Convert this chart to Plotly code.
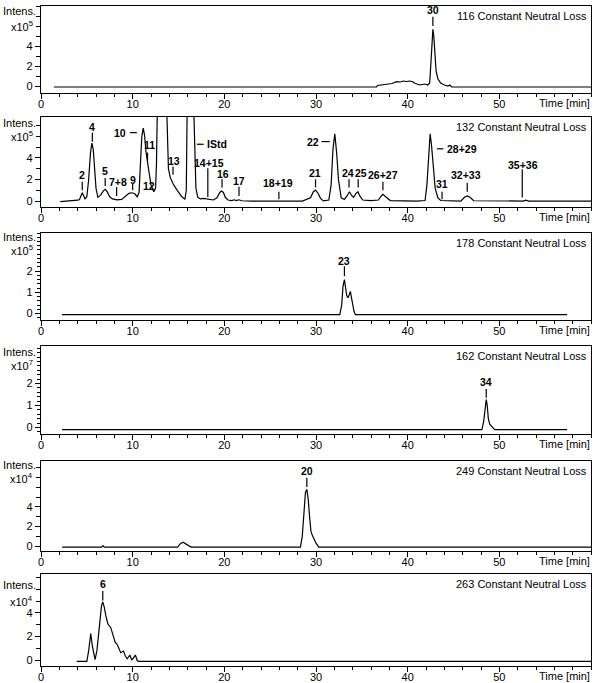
import plotly.graph_objects as go

# ---------------- data ----------------
titles = ["116 Constant Neutral Loss", "132 Constant Neutral Loss", "178 Constant Neutral Loss",
          "162 Constant Neutral Loss", "249 Constant Neutral Loss", "263 Constant Neutral Loss"]
exponents = [5, 5, 5, 7, 4, 4]

# (time [min], intensity in units of 10^exponent)
trace_116 = [(1.4, -0.1), (36.6, -0.1), (36.7, 0.05), (37.2, 0.1), (37.7, 0.2), (38.3, 0.25), (38.8, 0.43),
             (39.2, 0.4), (39.5, 0.5), (39.9, 0.45), (40.2, 0.5), (40.5, 0.45), (40.8, 0.27), (41.3, 0.1),
             (41.6, 0.15), (41.9, 0.2), (42.2, 0.1), (42.4, 0.3), (42.55, 2.5), (42.65, 5.0), (42.75, 5.67),
             (42.85, 5.0), (42.95, 3.0), (43.1, 1.5), (43.3, 0.7), (43.6, 0.3), (44.0, 0.1), (44.4, 0.0),
             (44.6, 0.1), (44.8, -0.1), (60.0, -0.1)]

trace_132 = [(2.1, -0.05), (3.0, 0.0), (4.0, 0.08), (4.2, 0.15), (4.4, 0.6), (4.5, 0.77), (4.65, 0.5),
             (4.8, 0.2), (5.0, 0.4), (5.2, 2.0), (5.4, 4.5), (5.55, 5.37), (5.7, 4.8), (5.85, 3.0), (6.0, 1.2),
             (6.2, 0.35), (6.5, 0.55), (6.8, 0.95), (7.0, 1.09), (7.2, 0.9), (7.5, 0.4), (7.8, 0.2), (8.3, 0.12),
             (8.8, 0.15), (9.2, 0.45), (9.6, 0.72), (9.9, 0.77), (10.2, 0.7), (10.5, 0.4), (10.7, 0.8),
             (10.85, 3.5), (11.0, 6.0), (11.15, 6.76), (11.3, 6.1), (11.45, 4.6), (11.6, 3.6), (11.8, 2.6),
             (12.0, 1.5), (12.3, 0.87), (12.5, 1.2), (12.6, 3.5), (12.75, 12.0), (13.2, 16.0), (13.6, 12.0),
             (13.75, 6.0), (13.9, 3.0), (14.1, 2.2), (14.4, 1.6), (14.7, 1.2), (15.0, 0.8), (15.3, 0.47),
             (15.7, 0.16), (15.85, 1.0), (15.95, 9.0), (16.3, 25.0), (16.65, 9.0), (16.75, 5.0), (16.9, 1.2),
             (17.1, 0.35), (17.4, 0.2), (17.7, 0.25), (18.0, 0.2), (18.4, 0.12), (18.8, 0.1), (19.2, 0.3),
             (19.5, 0.8), (19.7, 0.93), (19.9, 0.8), (20.1, 0.35), (20.4, 0.1), (20.8, 0.05), (21.1, 0.12),
             (21.3, 0.05), (21.6, 0.12), (21.9, 0.03), (23.0, 0.0), (26.0, 0.0), (28.5, 0.0), (29.4, 0.3),
             (29.7, 0.85), (29.95, 1.02), (30.2, 0.75), (30.5, 0.25), (30.8, 0.02), (31.4, 0.1), (31.65, 1.5),
             (31.85, 4.8), (32.05, 6.23), (32.25, 4.5), (32.45, 2.0), (32.75, 0.3), (33.1, 0.15), (33.4, 0.5),
             (33.65, 0.87), (33.9, 0.5), (34.1, 0.35), (34.35, 0.7), (34.57, 0.87), (34.8, 0.45), (35.1, 0.1),
             (36.0, 0.05), (36.8, 0.1), (37.1, 0.45), (37.3, 0.62), (37.6, 0.4), (38.1, 0.05), (41.0, 0.0),
             (41.9, 0.05), (42.1, 1.5), (42.3, 5.0), (42.45, 6.23), (42.6, 5.2), (42.8, 2.8), (43.0, 1.2),
             (43.3, 0.3), (43.6, 0.05), (45.8, 0.0), (46.2, 0.35), (46.5, 0.47), (46.8, 0.35), (47.2, 0.03),
             (52.6, 0.0), (52.9, 0.08), (53.2, 0.0), (60.0, 0.0)]

trace_178 = [(2.3, -0.05), (32.6, -0.05), (32.8, 0.4), (32.95, 1.3), (33.1, 1.6), (33.2, 1.2), (33.35, 0.85),
             (33.5, 0.75), (33.6, 0.9), (33.75, 1.05), (33.85, 0.8), (34.0, 0.4), (34.15, 0.1), (34.3, -0.05),
             (57.4, -0.05)]

trace_162 = [(2.3, -0.1), (48.1, -0.1), (48.3, 0.3), (48.45, 1.0), (48.57, 1.27), (48.68, 1.0), (48.8, 0.4),
             (48.95, 0.15), (49.2, 0.05), (49.5, -0.1), (57.4, -0.1)]

trace_249 = [(2.3, -0.1), (6.6, -0.1), (6.75, 0.05), (6.9, -0.1), (14.9, -0.1), (15.2, 0.25), (15.5, 0.4),
             (15.8, 0.2), (16.1, 0.05), (16.4, -0.1), (28.3, -0.1), (28.5, 1.0), (28.7, 3.5), (28.85, 5.5),
             (29.0, 5.8), (29.15, 4.8), (29.3, 3.0), (29.45, 1.5), (29.6, 1.1), (29.8, 0.7), (30.0, 0.3),
             (30.3, -0.1), (60.0, -0.1)]

trace_263 = [(3.9, -0.1), (5.0, -0.1), (5.2, 0.8), (5.43, 2.26), (5.6, 1.2), (5.9, 0.05), (6.1, 0.8),
             (6.4, 3.3), (6.6, 4.6), (6.74, 4.94), (6.9, 4.5), (7.07, 3.77), (7.3, 3.06), (7.6, 2.77),
             (7.9, 2.06), (8.1, 1.49), (8.3, 1.34), (8.5, 0.9), (8.7, 0.63), (9.0, 0.77), (9.2, 0.34),
             (9.4, 0.11), (9.7, 0.43), (9.9, 0.0), (10.3, 0.43), (10.5, -0.05), (10.7, -0.1), (60.0, -0.1)]

traces = [trace_116, trace_132, trace_178, trace_162, trace_249, trace_263]

# peak labels: (text, label time, label level, anchor, marker segment (t0, y0, t1, y1) or None)
labels_116 = [("30", 42.75, 7.55, "center", (42.75, 6.0, 42.75, 6.93))]
labels_132 = [
    ("2", 4.5, 2.45, "center", (4.5, 1.0, 4.5, 1.8)),
    ("4", 5.6, 6.85, "center", (5.6, 5.5, 5.6, 6.35)),
    ("5", 7.0, 2.75, "center", (7.0, 1.4, 7.0, 2.15)),
    ("7+8", 8.4, 1.75, "center", (8.25, 0.47, 8.25, 1.3)),
    ("9", 10.0, 1.95, "center", (10.0, 1.02, 10.0, 1.58)),
    ("10", 9.4, 6.35, "right", (9.7, 6.35, 10.45, 6.35)),
    ("11", 11.8, 5.2, "center", (11.62, 3.72, 11.62, 4.5)),
    ("12", 12.55, 1.4, "right", None),
    ("13", 14.5, 3.75, "center", (14.4, 2.45, 14.4, 3.2)),
    ("IStd", 18.0, 5.27, "left", (17.0, 5.27, 17.75, 5.27)),
    ("14+15", 18.3, 3.55, "center", (18.2, 0.37, 18.2, 3.05)),
    ("16", 19.8, 2.5, "center", (19.75, 1.27, 19.75, 2.05)),
    ("17", 21.6, 1.9, "center", (21.6, 0.47, 21.6, 1.33)),
    ("18+19", 25.9, 1.7, "center", (25.95, 0.16, 25.95, 0.87)),
    ("21", 29.9, 2.6, "center", (29.95, 1.27, 29.95, 2.02)),
    ("22", 30.45, 5.52, "right", (30.6, 5.52, 31.5, 5.52)),
    ("24", 33.5, 2.6, "center", (33.6, 1.27, 33.6, 2.02)),
    ("25", 34.95, 2.65, "center", (34.6, 1.27, 34.6, 2.02)),
    ("26+27", 37.3, 2.45, "center", (37.3, 1.0, 37.3, 1.8)),
    ("28+29", 44.2, 4.85, "left", (43.2, 4.85, 43.9, 4.85)),
    ("31", 43.75, 1.6, "center", (43.75, 0.16, 43.75, 0.87)),
    ("32+33", 46.4, 2.45, "center", (46.5, 0.87, 46.5, 1.7)),
    ("35+36", 52.6, 3.35, "center", (52.5, 0.34, 52.5, 2.95)),
]
labels_178 = [("23", 33.1, 2.47, "center", (33.1, 1.77, 33.1, 2.23))]
labels_162 = [("34", 48.57, 2.05, "center", (48.57, 1.35, 48.57, 1.75))]
labels_249 = [("20", 29.0, 7.7, "center", (29.0, 6.05, 29.0, 7.0))]
labels_263 = [("6", 6.74, 6.45, "center", (6.74, 5.06, 6.74, 5.86))]
peak_labels = [labels_116, labels_132, labels_178, labels_162, labels_249, labels_263]

x_tick_values = [0, 10, 20, 30, 40, 50]
x_tick_text = ["0", "10", "20", "30", "40", "50"]
y_tick_values_coarse = [0, 2, 4]
y_tick_values_fine = [0, 1, 2]

# ---------------- layout parameters ----------------
W, H = 600, 683
frame_top = [6, 117, 233, 346, 461, 574]
frame_bottom = [93, 207, 320, 434, 551, 666]
y_ranges = [(-0.7, 8.0), (-0.55, 7.8), (-0.3, 3.8), (-0.3, 3.7), (-0.5, 8.7), (-0.5, 7.3)]
fine_minor = [False, False, True, True, False, False]
intens_level = [7.5, 7.25, 3.62, 3.42, 8.3, 6.4]
exp_level = [6.0, 6.05, 3.0, 2.84, 6.95, 5.0]

FONT = "Liberation Sans, Arial, sans-serif"
BLACK = "#000000"

fig = go.Figure()
annotations = []
shapes = []

for k in range(6):
    n = k + 1
    xa = "x" if n == 1 else f"x{n}"
    ya = "y" if n == 1 else f"y{n}"
    pts = traces[k]
    fig.add_trace(go.Scatter(x=[p[0] for p in pts], y=[p[1] for p in pts], mode="lines",
                             line=dict(color=BLACK, width=1.2), xaxis=xa, yaxis=ya,
                             showlegend=False, hoverinfo="skip"))

    lo, hi = y_ranges[k]
    if fine_minor[k]:
        yt = y_tick_values_fine
        yminor = dict(tickmode="linear", tick0=0, dtick=0.2, ticklen=2.5, tickcolor=BLACK, tickwidth=1)
    else:
        yt = y_tick_values_coarse
        yminor = dict(tickmode="linear", tick0=0, dtick=1, ticklen=4, tickcolor=BLACK, tickwidth=1)

    dom = [1 - frame_bottom[k] / H, 1 - frame_top[k] / H]
    yaxis = dict(domain=dom, range=[lo, hi], anchor=xa, showgrid=False, zeroline=False,
                 showline=True, mirror=True, linecolor=BLACK, linewidth=1.3,
                 ticks="outside", ticklen=5, tickwidth=1, tickcolor=BLACK,
                 tickmode="array", tickvals=yt, ticktext=[str(v) for v in yt], automargin=False,
                 minor=yminor, tickfont=dict(family=FONT, size=11, color=BLACK))
    xaxis = dict(domain=[0, 1], range=[0, 60], anchor=ya, showgrid=False, zeroline=False,
                 showline=True, mirror=True, linecolor=BLACK, linewidth=1.3,
                 ticks="outside", ticklen=5, tickwidth=1, tickcolor=BLACK,
                 tickmode="array", tickvals=x_tick_values, ticktext=x_tick_text, automargin=False,
                 ticklabelstandoff=-4,
                 minor=dict(tickmode="linear", tick0=0, dtick=2, ticklen=3, tickcolor=BLACK, tickwidth=1),
                 tickfont=dict(family=FONT, size=11, color=BLACK))
    fig.layout["xaxis" if n == 1 else f"xaxis{n}"] = xaxis
    fig.layout["yaxis" if n == 1 else f"yaxis{n}"] = yaxis

    # title (trace name)
    annotations.append(dict(text=titles[k], xref=f"{xa} domain", yref=f"{ya} domain", x=1, y=1,
                            xanchor="right", yanchor="middle", xshift=-3, yshift=-10, showarrow=False,
                            borderpad=0, font=dict(family=FONT, size=11, color=BLACK)))
    # Time [min]
    annotations.append(dict(text="Time [min]", xref=f"{xa} domain", yref=f"{ya} domain", x=1, y=0,
                            xanchor="right", yanchor="top", yshift=-3, showarrow=False, borderpad=0,
                            font=dict(family=FONT, size=11, color=BLACK)))
    # Intens. / x10^n
    annotations.append(dict(text="Intens.", xref=f"{xa} domain", yref=ya, x=0, y=intens_level[k],
                            xanchor="right", yanchor="middle", xshift=-4, showarrow=False, borderpad=0,
                            font=dict(family=FONT, size=11, color=BLACK)))
    annotations.append(dict(text=f"x10<sup>{exponents[k]}</sup>", xref=f"{xa} domain", yref=ya, x=0,
                            y=exp_level[k], xanchor="right", yanchor="middle", xshift=-7, showarrow=False,
                            borderpad=0, font=dict(family=FONT, size=11, color=BLACK)))
    # peak labels
    for text, tx, ty, anchor, seg in peak_labels[k]:
        annotations.append(dict(text=f"<b>{text}</b>", xref=xa, yref=ya, x=tx, y=ty, xanchor=anchor,
                                yanchor="middle", showarrow=False, borderpad=0,
                                font=dict(family=FONT, size=10.5, color=BLACK)))
        if seg is not None:
            shapes.append(dict(type="line", xref=xa, yref=ya, x0=seg[0], y0=seg[1], x1=seg[2], y1=seg[3],
                               line=dict(color=BLACK, width=1.2)))

fig.update_layout(width=W, height=H, margin=dict(l=41, r=9, t=0, b=0), plot_bgcolor="white",
                  paper_bgcolor="white", annotations=annotations, shapes=shapes, showlegend=False,
                  font=dict(family=FONT, size=11, color=BLACK))

fig.write_html("out.html", config={"displayModeBar": False},
               post_script="document.body.style.margin='0px';document.body.style.padding='0px';")
